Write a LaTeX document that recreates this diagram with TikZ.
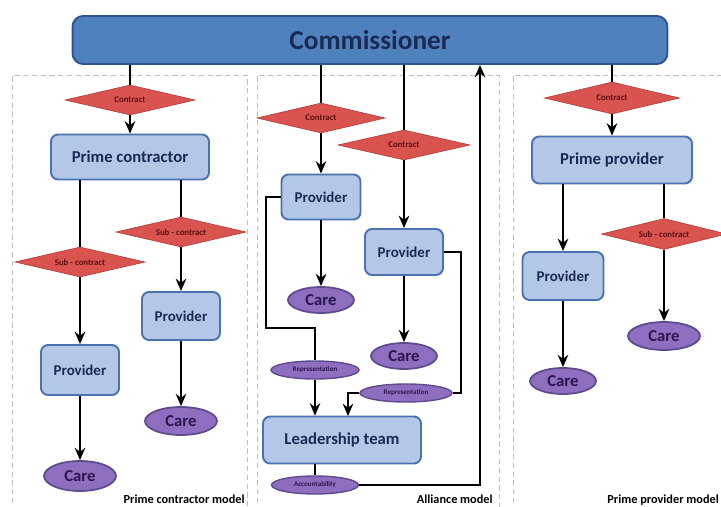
\documentclass[tikz,border=0pt]{standalone}
\usepackage{fontspec}
\setmainfont{Carlito}
\usetikzlibrary{shapes.geometric,arrows.meta}

\definecolor{commblue}{HTML}{4F81BD}
\definecolor{commedge}{HTML}{2F5597}
\definecolor{boxfill}{HTML}{B4C7E7}
\definecolor{boxedge}{HTML}{4A72B0}
\definecolor{navytext}{HTML}{1B2A55}
\definecolor{dealfill}{HTML}{D9534F}
\definecolor{dealedge}{HTML}{B8403C}
\definecolor{dealtext}{HTML}{5A1010}
\definecolor{carefill}{HTML}{8E6FBF}
\definecolor{careedge}{HTML}{5E4A8C}
\definecolor{caretext}{HTML}{2A1650}

\tikzset{
  orgbox/.style={draw=boxedge,fill=boxfill,line width=1.1pt,rounded corners=4pt,
    text=navytext,inner sep=0pt,font=\bfseries\fontsize{8.5}{10}\selectfont},
  bigbox/.style={orgbox,font=\bfseries\fontsize{9.5}{11}\selectfont},
  deal/.style={diamond,aspect=4.3,draw=dealedge,fill=dealfill,inner sep=0pt,text=dealtext,
    font=\bfseries\fontsize{5}{6}\selectfont},
  care/.style={ellipse,draw=careedge,fill=carefill,line width=1pt,inner sep=0pt,
    text=caretext,font=\bfseries\fontsize{9.5}{11}\selectfont,
    minimum width=1.4cm,minimum height=0.56cm},
  tag/.style={ellipse,draw=careedge,fill=carefill,line width=0.8pt,inner sep=0pt,
    text=caretext,font=\bfseries\fontsize{4}{5}\selectfont,minimum height=0.36cm},
  link/.style={line width=1.4pt,-{Stealth[length=7pt,width=6pt]}},
  plain/.style={line width=1.4pt},
  panel/.style={draw=gray!50,densely dashed,line width=0.5pt},
  modelname/.style={font=\bfseries\fontsize{7}{8}\selectfont,inner sep=0pt}
}

\begin{document}
\begin{tikzpicture}[x=0.02cm,y=-0.02cm]
\useasboundingbox (0,0) rectangle (721,507);

% model panels
\draw[panel] (12,512) -- (12,75) -- (247,75) -- (247,512);
\draw[panel] (257,512) -- (257,75) -- (499,75) -- (499,512);
\draw[panel] (513,512) -- (513,75) -- (730,75);

\node[modelname,anchor=base east] (mleft) at (245,503) {Prime contractor model};
\node[modelname,anchor=base east] (mmid) at (493,503) {Alliance model};
\node[modelname,anchor=base west] (mright) at (607,503) {Prime provider model};

% commissioner
\node[draw=commedge,fill=commblue,line width=1.1pt,rounded corners=6pt,
  minimum width=11.9cm,minimum height=0.96cm,text=navytext,
  font=\bfseries\fontsize{15.5}{17}\selectfont] (comm) at (370,40) {Commissioner};

% prime contractor model
\node[deal,minimum width=2.6cm,minimum height=0.6cm] (lcon) at (130,100) {Contract};
\node[bigbox,minimum width=3.16cm,minimum height=0.9cm] (pcon) at (130,157) {Prime contractor};
\node[deal,minimum width=2.6cm,minimum height=0.6cm] (lsub1) at (80,262) {Sub - contract};
\node[deal,minimum width=2.6cm,minimum height=0.6cm] (lsub2) at (181,232) {Sub - contract};
\node[orgbox,minimum width=1.56cm,minimum height=1.0cm] (lprov1) at (80,370) {Provider};
\node[orgbox,minimum width=1.56cm,minimum height=0.96cm] (lprov2) at (181,316) {Provider};
\node[care,minimum width=1.44cm,minimum height=0.6cm] (lcare1) at (80,476) {Care};
\node[care,minimum width=1.44cm,minimum height=0.56cm] (lcare2) at (181,421) {Care};

\draw[plain] (comm.south -| lcon) -- (lcon.north);
\draw[link] (lcon.south) -- (pcon.north);
\draw[plain] (pcon.south -| lsub1) -- (lsub1.north);
\draw[plain] (pcon.south -| lsub2) -- (lsub2.north);
\draw[link] (lsub1.south) -- (lprov1.north);
\draw[link] (lsub2.south) -- (lprov2.north);
\draw[link] (lprov1.south) -- (lcare1.north);
\draw[link] (lprov2.south) -- (lcare2.north);

% alliance model
\node[deal,minimum width=2.56cm,minimum height=0.6cm] (acon1) at (321,118) {Contract};
\node[deal,minimum width=2.64cm,minimum height=0.6cm] (acon2) at (404,145) {Contract};
\node[orgbox,minimum width=1.58cm,minimum height=0.9cm] (aprov1) at (321,197) {Provider};
\node[orgbox,minimum width=1.56cm,minimum height=0.92cm] (aprov2) at (404,252) {Provider};
\node[care,minimum width=1.32cm,minimum height=0.52cm] (acare1) at (321,300) {Care};
\node[care,minimum width=1.32cm,minimum height=0.52cm] (acare2) at (404,356) {Care};
\node[bigbox,minimum width=3.16cm,minimum height=0.94cm] (lead) at (342,440) {Leadership team};
\node[tag,minimum width=1.76cm] (rep1) at (315,370) {Representation};
\node[tag,minimum width=1.84cm] (rep2) at (406,393) {Representation};
\node[tag,minimum width=1.74cm] (acc) at (315,485) {Accountability};

\coordinate (bendA) at (266,328);
\coordinate (bendB) at (461,393);
\coordinate (dropB) at (348,416);
\coordinate (backC) at (480,485);

\draw[plain] (comm.south -| acon1) -- (acon1.north);
\draw[plain] (comm.south -| acon2) -- (acon2.north);
\draw[link] (acon1.south) -- (aprov1.north);
\draw[link] (acon2.south) -- (aprov2.north);
\draw[link] (aprov1.south) -- (acare1.north);
\draw[link] (aprov2.south) -- (acare2.north);
\draw[plain] (aprov1.west) -| (bendA) -| (rep1.north);
\draw[link] (rep1.south) -- (lead.north -| rep1);
\draw[plain] (aprov2.east) -| (bendB) -- (rep2.east);
\draw[link] (rep2.west) -| (dropB);
\draw[plain] (lead.south -| acc) -- (acc.north);
\draw[link] (acc.east) -- (backC) -- (comm.south -| backC);

% prime provider model
\node[deal,minimum width=2.7cm,minimum height=0.64cm] (rcon) at (612,98) {Contract};
\node[bigbox,minimum width=3.2cm,minimum height=0.94cm] (pprov) at (612,160) {Prime provider};
\node[orgbox,minimum width=1.62cm,minimum height=0.96cm] (rprov) at (563,276) {Provider};
\node[deal,minimum width=2.5cm,minimum height=0.62cm] (rsub) at (664,234) {Sub - contract};
\node[care,minimum width=1.32cm,minimum height=0.52cm] (rcare1) at (563,381) {Care};
\node[care,minimum width=1.44cm,minimum height=0.56cm] (rcare2) at (664,336) {Care};

\draw[plain] (comm.south -| rcon) -- (rcon.north);
\draw[link] (rcon.south) -- (pprov.north);
\draw[link] (pprov.south -| rprov) -- (rprov.north);
\draw[plain] (pprov.south -| rsub) -- (rsub.north);
\draw[link] (rsub.south) -- (rcare2.north);
\draw[link] (rprov.south) -- (rcare1.north);
\end{tikzpicture}
\end{document}
